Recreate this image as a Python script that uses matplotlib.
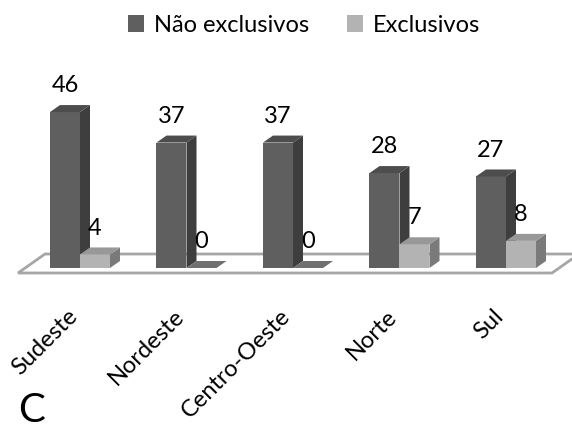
import numpy as np
import matplotlib
matplotlib.use('Agg')
import matplotlib.pyplot as plt
from matplotlib.patches import Polygon, Rectangle, Patch

regions = ['Sudeste', 'Nordeste', 'Centro-Oeste', 'Norte', 'Sul']
nao_exclusivos = [46, 37, 37, 28, 27]
exclusivos = [4, 0, 0, 7, 8]
series_names = ['Não exclusivos', 'Exclusivos']

plt.rcParams['font.family'] = ['Lato', 'DejaVu Sans']

# face colours: front, side, top
dark = ('#5f5f5f', '#3e3e3e', '#4d4d4d')
light = ('#b3b3b3', '#7a7a7a', '#989898')

W, H = 572, 430
fig = plt.figure(figsize=(W / 100, H / 100), dpi=100)
ax = fig.add_axes([0, 0, 1, 1])

# pixel scale of the fake 3d axes
px_x = 106.5      # pixels per category
px_y = 3.39       # pixels per unit
x0_px, base_px = 80, 268
ax.set_xlim(-x0_px / px_x, (W - x0_px) / px_x)
ax.set_ylim((base_px - H) / px_y, base_px / px_y)
ax.axis('off')

w = 30 / px_x
dx, dy = 10 / px_x, 7 / px_y

# floor (front edge slightly in front of the bars)
fdx, fdy = 27 / px_x, 19 / px_y
fl = (18 - x0_px) / px_x
fr = (552 - x0_px) / px_x
off_y = -5 / px_y
floor = Polygon([(fl, off_y), (fr, off_y), (fr + fdx, off_y + fdy), (fl + fdx, off_y + fdy)],
                closed=True, facecolor='white', edgecolor='#a6a6a6', lw=2, zorder=1)
ax.add_patch(floor)


def bar3d(xl, v, cols):
    xr = xl + w
    ax.add_patch(Rectangle((xl, 0), w, v, facecolor=cols[0], edgecolor='none', zorder=3))
    ax.add_patch(Polygon([(xr, 0), (xr + dx, dy), (xr + dx, v + dy), (xr, v)],
                         facecolor=cols[1], edgecolor='none', zorder=3))
    ax.add_patch(Polygon([(xl, v), (xl + dx, v + dy), (xr + dx, v + dy), (xr, v)],
                         facecolor=cols[2] if v > 0 else '#707070', edgecolor='none', zorder=3))
    ax.annotate(str(v), (xl + w / 2, v), xytext=(0, 19), textcoords='offset points',
                ha='center', va='center', fontsize=17, color='black', zorder=5)


for i in range(len(regions)):
    bar3d(i - w, nao_exclusivos[i], dark)
    bar3d(i, exclusivos[i], light)

# category labels
for i, name in enumerate(regions):
    lx = i - 6 / px_x
    ly = (base_px - 313) / px_y
    ax.text(lx, ly, name, rotation=45, rotation_mode='anchor', ha='right', va='center',
            fontsize=17)

handles = [Patch(facecolor=dark[0]), Patch(facecolor=light[0])]
fig.legend(handles, series_names, loc='center', bbox_to_anchor=(304 / W, 1 - 25 / H),
           ncol=2, frameon=False, fontsize=17, handlelength=0.7, handleheight=0.7,
           handletextpad=0.4, columnspacing=1.6)

fig.text(18 / W, 1 - 410 / H, 'C', fontsize=29, va='center', ha='left')

fig.savefig('out.png', dpi=100, facecolor='white')
